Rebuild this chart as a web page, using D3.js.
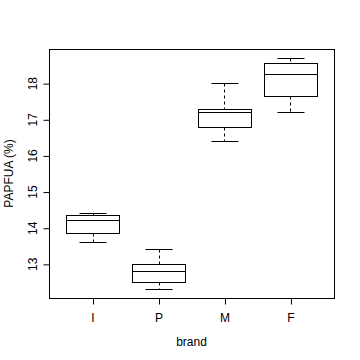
<!DOCTYPE html>
<html>
<head>
<meta charset="utf-8">
<script src="https://cdn.jsdelivr.net/npm/d3@7"></script>
<style>
  body { margin: 0; background: #fff; }
  svg text { font-family: "Liberation Sans", Arial, sans-serif; font-size: 12px; fill: #000; }
</style>
</head>
<body>
<div id="chart"></div>
<script>
// box statistics
var brands = ["I", "P", "M", "F"];
var lowWhisker = [13.60, 12.31, 16.40, 17.21];
var q1 = [13.85, 12.50, 16.78, 17.64];
var medians = [14.21, 12.81, 17.21, 18.25];
var q3 = [14.35, 12.99, 17.28, 18.55];
var highWhisker = [14.40, 13.41, 18.00, 18.69];
var yTicks = [13, 14, 15, 16, 17, 18];

var svgWidth = 360;
var svgHeight = 360;

var plot = { left: 49, right: 334, top: 49, bottom: 298 };

var svg = d3.select("#chart")
  .append("svg")
  .attr("width", svgWidth)
  .attr("height", svgHeight);

var px = v => Math.round(v) + 0.5;

// R style: 4% padding on both scales
var xScale = d3.scaleLinear()
  .domain([0.34, 4.66])
  .range([plot.left, plot.right]);

var yScale = d3.scaleLinear()
  .domain([12.055, 18.945])
  .range([plot.bottom, plot.top]);

var boxData = brands.map(function(b, i) {
  return { brand: b, pos: i + 1, lo: lowWhisker[i], q1: q1[i], med: medians[i], q3: q3[i], hi: highWhisker[i] };
});

var boxes = svg.selectAll(".box")
  .data(boxData)
  .enter()
  .append("g")
  .attr("class", "box")
  .attr("stroke", "#000")
  .attr("stroke-width", 1)
  .attr("fill", "none");

// whiskers (dashed)
boxes.append("line")
  .attr("x1", d => px(xScale(d.pos))).attr("x2", d => px(xScale(d.pos)))
  .attr("y1", d => px(yScale(d.hi))).attr("y2", d => px(yScale(d.q3)))
  .attr("stroke-dasharray", "3,3");
boxes.append("line")
  .attr("x1", d => px(xScale(d.pos))).attr("x2", d => px(xScale(d.pos)))
  .attr("y1", d => px(yScale(d.q1))).attr("y2", d => px(yScale(d.lo)))
  .attr("stroke-dasharray", "3,3");

// staples
boxes.append("line")
  .attr("x1", d => px(xScale(d.pos - 0.2))).attr("x2", d => px(xScale(d.pos + 0.2)))
  .attr("y1", d => px(yScale(d.hi))).attr("y2", d => px(yScale(d.hi)));
boxes.append("line")
  .attr("x1", d => px(xScale(d.pos - 0.2))).attr("x2", d => px(xScale(d.pos + 0.2)))
  .attr("y1", d => px(yScale(d.lo))).attr("y2", d => px(yScale(d.lo)));

// box
boxes.append("rect")
  .attr("x", d => px(xScale(d.pos - 0.4)))
  .attr("y", d => px(yScale(d.q3)))
  .attr("width", d => Math.round(xScale(d.pos + 0.4)) - Math.round(xScale(d.pos - 0.4)))
  .attr("height", d => Math.round(yScale(d.q1)) - Math.round(yScale(d.q3)))
  .attr("fill", "#fff");

// median
boxes.append("line")
  .attr("x1", d => px(xScale(d.pos - 0.4))).attr("x2", d => px(xScale(d.pos + 0.4)))
  .attr("y1", d => px(yScale(d.med))).attr("y2", d => px(yScale(d.med)));

// plot frame
svg.append("rect")
  .attr("x", plot.left + 0.5)
  .attr("y", plot.top + 0.5)
  .attr("width", plot.right - plot.left)
  .attr("height", plot.bottom - plot.top)
  .attr("fill", "none")
  .attr("stroke", "#000");

// y axis
var yAxis = svg.append("g")
  .attr("transform", `translate(${plot.left + 0.5},0)`)
  .call(d3.axisLeft(yScale).tickValues(yTicks).tickFormat(d3.format("d")).tickSize(6).tickPadding(0).tickSizeOuter(0));
yAxis.select(".domain").remove();
yAxis.selectAll(".tick line").attr("stroke", "#000")
  .attr("transform", "translate(0,0.5)");
yAxis.selectAll(".tick text")
  .attr("x", 0).attr("dy", 0)
  .attr("transform", "translate(-13,0) rotate(-90)")
  .attr("text-anchor", "middle")
  .attr("fill", "#000")
  .style("font-size", "12px");

// x axis
var xAxis = svg.append("g")
  .attr("transform", `translate(0,${plot.bottom + 0.5})`)
  .call(d3.axisBottom(xScale).tickValues([1, 2, 3, 4]).tickFormat((d, i) => brands[i]).tickSize(6).tickSizeOuter(0));
xAxis.select(".domain").remove();
xAxis.selectAll(".tick line").attr("stroke", "#000")
  .attr("transform", "translate(0.5,0)");
xAxis.selectAll(".tick text")
  .attr("y", 23).attr("dy", 0)
  .attr("fill", "#000")
  .style("font-size", "12px");

// axis titles
svg.append("text")
  .attr("x", (plot.left + plot.right) / 2)
  .attr("y", 346)
  .attr("text-anchor", "middle")
  .text("brand");

svg.append("text")
  .attr("transform", `translate(13,${(plot.top + plot.bottom) / 2}) rotate(-90)`)
  .attr("text-anchor", "middle")
  .text("PAPFUA (%)");
</script>
</body>
</html>
